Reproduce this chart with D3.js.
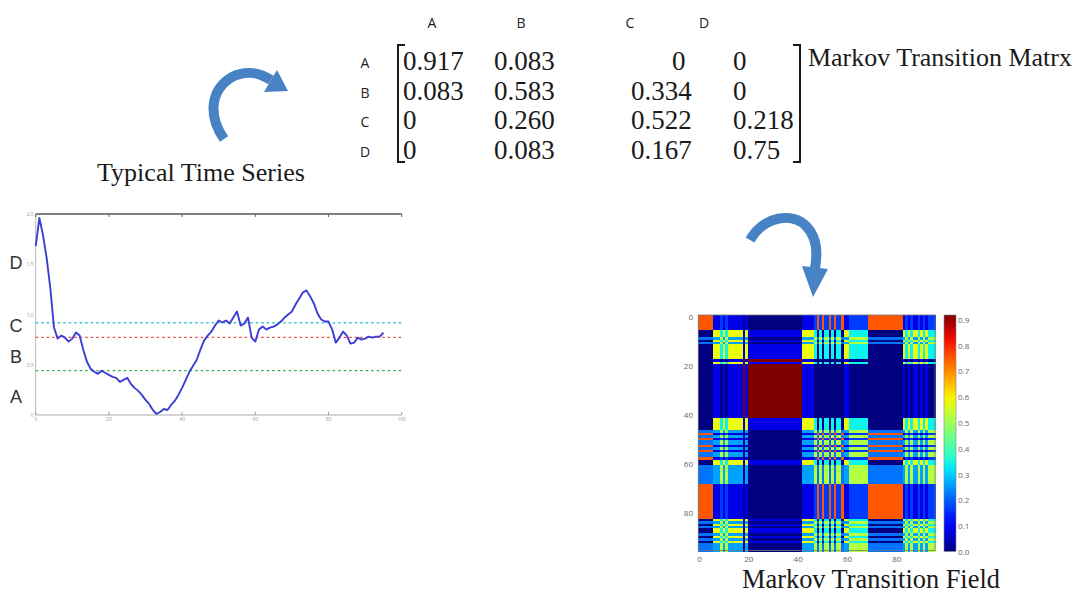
<!DOCTYPE html>
<html>
<head>
<meta charset="utf-8">
<script src="https://cdn.jsdelivr.net/npm/d3@7"></script>
<style>
  html, body { margin: 0; padding: 0; background: #ffffff; }
  svg { display: block; }
</style>
</head>
<body>
<svg id="chart" width="1078" height="594"></svg>
<script>
// ---- data -------------------------------------------------------------
const stateLabels = ["A", "B", "C", "D"];

// Markov transition matrix (rows: from state, columns: to state)
const transition = [
  [0.917, 0.083, 0,     0    ],
  [0.083, 0.583, 0.334, 0    ],
  [0,     0.260, 0.522, 0.218],
  [0,     0.083, 0.167, 0.75 ]
];
const transitionText = [
  ["0.917", "0.083", "0",     "0"    ],
  ["0.083", "0.583", "0.334", "0"    ],
  ["0",     "0.260", "0.522", "0.218"],
  ["0",     "0.083", "0.167", "0.75" ]
];

// Time series values, one per time step
const seriesValues = [
  1.68, 1.96, 1.79, 1.56, 1.26, 0.87, 0.76, 0.79, 0.77, 0.73,
  0.76, 0.82, 0.79, 0.65, 0.53, 0.46, 0.43, 0.41, 0.44, 0.42,
  0.40, 0.38, 0.37, 0.33, 0.35, 0.37, 0.31, 0.27, 0.24, 0.20,
  0.15, 0.11, 0.05, 0.01, 0.03, 0.06, 0.05, 0.10, 0.14, 0.20,
  0.27, 0.35, 0.43, 0.49, 0.55, 0.65, 0.74, 0.79, 0.83, 0.89,
  0.94, 0.92, 0.94, 0.91, 0.97, 1.03, 0.89, 0.91, 0.97, 0.77,
  0.73, 0.85, 0.88, 0.85, 0.87, 0.88, 0.90, 0.93, 0.97, 1.00,
  1.03, 1.10, 1.16, 1.22, 1.24, 1.18, 1.11, 1.01, 0.95, 0.93,
  0.93, 0.85, 0.72, 0.77, 0.83, 0.79, 0.71, 0.72, 0.77, 0.75,
  0.76, 0.78, 0.77, 0.78, 0.78, 0.82
];

// Quantile bin boundaries (A|B, B|C, C|D) drawn as dashed lines
const binEdges = [0.441, 0.773, 0.918];
const binEdgeColors = ["#3aa847", "#ee4a4a", "#2fc9d6"];
// Position of each state's letter on the series axis
const stateLabelValues = [0.18, 0.58, 0.89, 1.51];

const seriesXTicks = [0, 20, 40, 60, 80, 100];
const seriesYTicks = ["0", "0.5", "1.0", "1.5", "2.0"];

// State of each time step used to build the transition field
const fieldStates = ("DDDDDD" + "BBBCBCBBBBBB" + "AB" + "AAAAAAAAAAAAAAAAAAAAAA" +
  "BBBBB" + "CDCDCCDCDCCD" + "BB" + "CCCCCCCC" + "DDDDDDDDDDDDDD" +
  "BCBCBBCBCBCCC").split("");

const fieldTicks = [0, 20, 40, 60, 80];
const colorbarTicks = [0.0, 0.1, 0.2, 0.3, 0.4, 0.5, 0.6, 0.7, 0.8, 0.9];

// ---- setup ------------------------------------------------------------
const svg = d3.select("#chart");
const serif = "'Liberation Serif', 'DejaVu Serif', serif";
const sans = "'Open Sans', 'Liberation Sans', sans-serif";

// text sized so that it spans a given width
function fitText(sel, width) {
  const len = sel.node().getComputedTextLength();
  const fs = parseFloat(sel.attr("font-size"));
  sel.attr("font-size", fs * width / len);
  return sel;
}

// matplotlib "jet" colour map built from linear scales
const jetR = d3.scaleLinear().domain([0, 0.35, 0.66, 0.89, 1]).range([0, 0, 1, 1, 0.5]).clamp(true);
const jetG = d3.scaleLinear().domain([0, 0.125, 0.375, 0.64, 0.91, 1]).range([0, 0, 1, 1, 0, 0]).clamp(true);
const jetB = d3.scaleLinear().domain([0, 0.11, 0.34, 0.65, 1]).range([0.5, 1, 1, 0, 0]).clamp(true);
const jet = t => d3.rgb(jetR(t) * 255, jetG(t) * 255, jetB(t) * 255).formatHex();

const vmax = d3.max(transition.flat());
const colorNorm = d3.scaleLinear().domain([0, vmax]).range([0, 1]).clamp(true);

const defs = svg.append("defs");

// ---- transition matrix -----------------------------------------------
const colX = d3.scaleOrdinal().domain(stateLabels).range([403, 494, 631, 733]);
const headerX = d3.scaleOrdinal().domain(stateLabels).range([432, 521, 630, 704]);
const rowY = d3.scaleOrdinal().domain(stateLabels).range([62, 92, 121, 151]);

const matrixG = svg.append("g");
matrixG.selectAll("text.colhead").data(stateLabels).join("text")
  .attr("class", "colhead")
  .attr("x", d => headerX(d)).attr("y", 22)
  .attr("text-anchor", "middle").attr("dominant-baseline", "central")
  .attr("font-family", sans).attr("font-size", 14).attr("fill", "#222")
  .text(d => d);
matrixG.selectAll("text.rowhead").data(stateLabels).join("text")
  .attr("class", "rowhead")
  .attr("x", 365).attr("y", d => rowY(d))
  .attr("text-anchor", "middle").attr("dominant-baseline", "central")
  .attr("font-family", sans).attr("font-size", 14).attr("fill", "#222")
  .text(d => d);

transitionText.forEach((row, i) => {
  row.forEach((txt, j) => {
    matrixG.append("text")
      .attr("x", colX(stateLabels[j]) + (i === 0 && j === 2 ? 41 : 0))
      .attr("y", rowY(stateLabels[i]) + 8)
      .attr("font-family", serif).attr("font-size", 27).attr("fill", "#1a1a1a")
      .text(txt);
  });
});

// brackets
const bTop = 45, bBot = 162;
matrixG.append("path")
  .attr("d", `M405,${bTop} H398 V${bBot} H405`)
  .attr("fill", "none").attr("stroke", "#1a1a1a").attr("stroke-width", 2);
matrixG.append("path")
  .attr("d", `M793,${bTop} H800 V${bBot} H793`)
  .attr("fill", "none").attr("stroke", "#1a1a1a").attr("stroke-width", 2);

fitText(matrixG.append("text")
  .attr("x", 808).attr("y", 66)
  .attr("font-family", serif).attr("font-size", 25).attr("fill", "#1a1a1a")
  .text("Markov Transition Matrx"), 264);

// ---- arrows -------------------------------------------------------------
function arrow(pathD, head) {
  const g = svg.append("g");
  g.append("path").attr("d", pathD)
    .attr("fill", "none").attr("stroke", "#4682c4").attr("stroke-width", 10)
    .attr("stroke-linecap", "butt");
  g.append("polygon").attr("points", head.map(p => p.join(",")).join(" "))
    .attr("fill", "#4682c4");
}
arrow("M224,139 C208,116 210,90 232,77 C246,70 258,72 271,80",
  [[277, 70], [264, 92], [288, 91]]);
arrow("M750,240 C764,216 792,212 806,226 C816,236 818,252 815,268",
  [[802, 266], [828, 269], [813, 297]]);

// ---- time series panel --------------------------------------------------
const sx = d3.scaleLinear().domain([0, 100]).range([35.7, 401.7]);
const sy = d3.scaleLinear().domain([0, 2]).range([415, 214]);

fitText(svg.append("text")
  .attr("x", 97).attr("y", 181)
  .attr("font-family", serif).attr("font-size", 24).attr("fill", "#1a1a1a")
  .text("Typical Time Series"), 208);

const ts = svg.append("g");
// spines
ts.append("line").attr("x1", sx(0)).attr("x2", sx(100)).attr("y1", sy(2)).attr("y2", sy(2))
  .attr("stroke", "#555").attr("stroke-width", 1.4);
ts.append("line").attr("x1", sx(0)).attr("x2", sx(0)).attr("y1", sy(2)).attr("y2", sy(0))
  .attr("stroke", "#bbb").attr("stroke-width", 1);
ts.append("line").attr("x1", sx(0)).attr("x2", sx(100)).attr("y1", sy(0)).attr("y2", sy(0))
  .attr("stroke", "#aaa").attr("stroke-width", 1);

// ticks
ts.selectAll("line.xt").data(seriesXTicks).join("line").attr("class", "xt")
  .attr("x1", d => sx(d)).attr("x2", d => sx(d)).attr("y1", sy(0)).attr("y2", sy(0) - 3)
  .attr("stroke", "#999");
ts.selectAll("line.xtt").data(seriesXTicks).join("line").attr("class", "xtt")
  .attr("x1", d => sx(d)).attr("x2", d => sx(d)).attr("y1", sy(2)).attr("y2", sy(2) + 3)
  .attr("stroke", "#666");
ts.selectAll("text.xl").data(seriesXTicks).join("text").attr("class", "xl")
  .attr("x", d => sx(d)).attr("y", sy(0) + 6)
  .attr("text-anchor", "middle").attr("font-family", sans).attr("font-size", 5).attr("fill", "#999")
  .text(d => d);
ts.selectAll("text.yl").data(seriesYTicks).join("text").attr("class", "yl")
  .attr("x", sx(0) - 2).attr("y", (d, i) => sy(i * 0.5) + 2)
  .attr("text-anchor", "end").attr("font-family", sans).attr("font-size", 5).attr("fill", "#999")
  .text(d => d);

// bin boundaries
ts.selectAll("line.edge").data(binEdges).join("line").attr("class", "edge")
  .attr("x1", sx(0)).attr("x2", sx(100)).attr("y1", d => sy(d)).attr("y2", d => sy(d))
  .attr("stroke", (d, i) => binEdgeColors[i]).attr("stroke-width", 1.3)
  .attr("stroke-dasharray", "2.5,3");

// state letters
ts.selectAll("text.state").data(stateLabels).join("text").attr("class", "state")
  .attr("x", 16).attr("y", (d, i) => sy(stateLabelValues[i]))
  .attr("text-anchor", "middle").attr("dominant-baseline", "central")
  .attr("font-family", "'Liberation Sans', sans-serif").attr("font-size", 18).attr("fill", "#333")
  .text(d => d);

// the series
ts.append("path")
  .datum(seriesValues)
  .attr("d", d3.line().x((d, i) => sx(i)).y(d => sy(d)))
  .attr("fill", "none").attr("stroke", "#3d3dd6").attr("stroke-width", 1.9)
  .attr("stroke-linejoin", "round");

// ---- Markov transition field -------------------------------------------
const n = fieldStates.length;
const stateIndex = d3.scaleOrdinal().domain(stateLabels).range([0, 1, 2, 3]);
const fx = d3.scaleBand().domain(d3.range(n)).range([698.3, 935]);
const fy = d3.scaleBand().domain(d3.range(n)).range([315, 550.5]);

const cells = [];
for (let i = 0; i < n; i++) {
  for (let j = 0; j < n; j++) {
    cells.push({ i, j, v: transition[stateIndex(fieldStates[i])][stateIndex(fieldStates[j])] });
  }
}
const field = svg.append("g");
field.append("g").attr("shape-rendering", "crispEdges")
  .selectAll("rect").data(cells).join("rect")
  .attr("x", d => fx(d.j)).attr("y", d => fy(d.i))
  .attr("width", fx.bandwidth() + 1).attr("height", fy.bandwidth() + 1)
  .attr("fill", d => jet(colorNorm(d.v)));
field.append("rect")
  .attr("x", 698.3).attr("y", 315).attr("width", 935 - 698.3).attr("height", 550.5 - 315)
  .attr("fill", "none").attr("stroke", "#777").attr("stroke-width", 0.8);

// field axes
field.selectAll("text.fyl").data(fieldTicks).join("text").attr("class", "fyl")
  .attr("x", 693).attr("y", d => fy(d) + fy.bandwidth() / 2)
  .attr("text-anchor", "end").attr("dominant-baseline", "central")
  .attr("font-family", sans).attr("font-size", 8).attr("fill", "#666")
  .text(d => d);
field.selectAll("text.fxl").data(fieldTicks).join("text").attr("class", "fxl")
  .attr("x", d => fx(d) + fx.bandwidth() / 2).attr("y", 558)
  .attr("text-anchor", "middle").attr("dominant-baseline", "central")
  .attr("font-family", sans).attr("font-size", 8).attr("fill", "#666")
  .text(d => d);

// colour bar
const cbY = d3.scaleLinear().domain([0, vmax]).range([551.5, 315]);
const cbGrad = defs.append("linearGradient").attr("id", "jetBar")
  .attr("x1", 0).attr("y1", 1).attr("x2", 0).attr("y2", 0);
d3.range(0, 1.0001, 0.05).forEach(t => {
  cbGrad.append("stop").attr("offset", t).attr("stop-color", jet(t));
});
field.append("rect")
  .attr("x", 944).attr("y", cbY(vmax)).attr("width", 12).attr("height", cbY(0) - cbY(vmax))
  .attr("fill", "url(#jetBar)").attr("stroke", "#888").attr("stroke-width", 0.6);
field.selectAll("text.cb").data(colorbarTicks).join("text").attr("class", "cb")
  .attr("x", 958).attr("y", d => cbY(d))
  .attr("dominant-baseline", "central")
  .attr("font-family", sans).attr("font-size", 8).attr("fill", "#666")
  .text(d => d.toFixed(1));

fitText(svg.append("text")
  .attr("x", 742).attr("y", 588)
  .attr("font-family", serif).attr("font-size", 24).attr("fill", "#1a1a1a")
  .text("Markov Transition Field"), 258);
</script>
</body>
</html>
